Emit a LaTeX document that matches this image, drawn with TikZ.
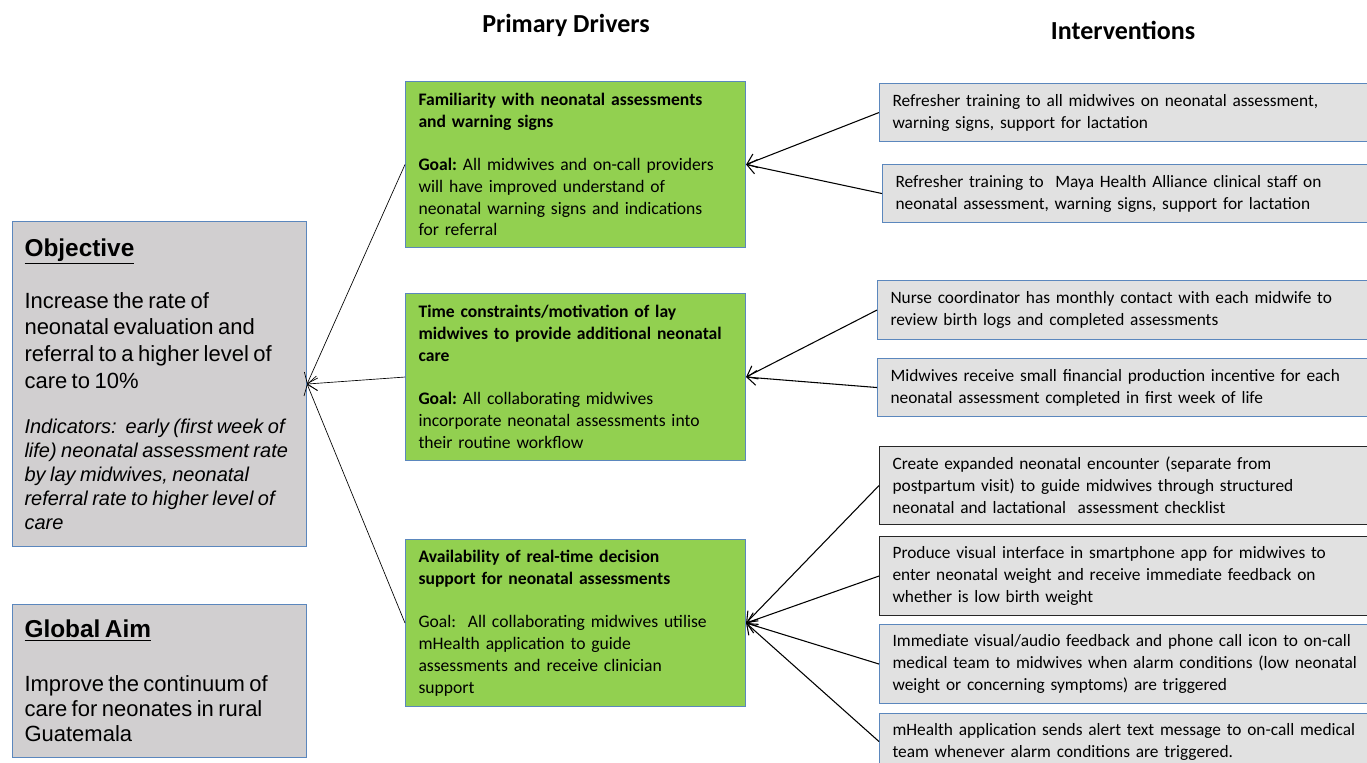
\documentclass[tikz,border=0pt]{standalone}
\usepackage{fontspec}
\setmainfont{Carlito}
\newfontfamily\arialfont{Liberation Sans}
\usepackage{tikz}
\usetikzlibrary{positioning,arrows.meta}
\definecolor{drivergreen}{HTML}{92D050}
\definecolor{edgeblue}{HTML}{5B87BD}
\definecolor{aimgray}{HTML}{D1CFD0}
\definecolor{intgray}{HTML}{E1E1E1}
\frenchspacing
\tikzstyle{aimbox}    = [draw=edgeblue, fill=aimgray, anchor=north west, text width=202.5pt, inner xsep=9pt, inner ysep=0pt, align=left, font=\arialfont, line width=0.8pt]
\tikzstyle{driver}    = [draw=edgeblue, fill=drivergreen, anchor=north west, text width=235.5pt, inner xsep=9.75pt, inner ysep=0pt, align=left, font=\fontsize{13.2}{16.3}\selectfont, line width=0.8pt]
\tikzstyle{interv}    = [draw=edgeblue, fill=intgray, anchor=north west, text width=355.5pt, inner xsep=9.75pt, inner ysep=0pt, align=left, font=\fontsize{13}{16.5}\selectfont, line width=0.8pt]
\tikzstyle{intervdark}= [interv, draw=black!85]
\tikzstyle{heading}   = [font=\fontsize{19.5}{22}\selectfont\bfseries]
\tikzstyle{arrow}     = [line width=0.8pt,-{Straight Barb[length=7pt,width=11pt]}]
\tikzstyle{thinarrow} = [line width=0.5pt,-{Straight Barb[length=7pt,width=11pt]}]

\begin{document}
\frenchspacing
\begin{tikzpicture}[x=0.75pt,y=-0.75pt]
		\useasboundingbox (0,0) rectangle (1367,763);
		\clip (0,0) rectangle (1367,763);

		\node[heading] (drivershead) at (566,25) {Primary Drivers};
		\node[heading] (intervhead) at (1123,30) {Interventions};

		\node[aimbox, minimum height=243.75pt] (objective) at (12,221) {{\fontsize{18.3}{21}\selectfont\bfseries\underline{Objective}\par}\vspace{19pt}
			{\fontsize{16.5}{20}\selectfont Increase the rate of\\neonatal evaluation and\\referral to a higher level of\\care to 10\%\par}\vspace{16pt}
			{\fontsize{15}{18}\selectfont\itshape Indicators:\ \ early (first week of\\life) neonatal assessment rate\\by lay midwives, neonatal\\referral rate to higher level of\\care\par}};
		\node[aimbox, minimum height=114.75pt] (globalaim) at (12,604) {{\fontsize{18.3}{21}\selectfont\bfseries\underline{Global Aim}\par}\vspace{21pt}
			{\fontsize{16.5}{19}\selectfont Improve the continuum of\\care for neonates in rural\\Guatemala\par}};

		\node[driver, minimum height=124.5pt] (familiar) at (405,81) {\textbf{Familiarity with neonatal assessments\\and warning signs}\\[16.3pt]
			\textbf{Goal:} All midwives and on-call providers\\will have improved understand of\\neonatal warning signs and indications\\for referral};
		\node[driver, minimum height=125.25pt] (timemot) at (405,293) {\textbf{Time constraints/motivation of lay\\midwives to provide additional neonatal\\care}\\[16.3pt]
			\textbf{Goal:} All collaborating midwives\\incorporate neonatal assessments into\\their routine workflow};
		\node[driver, minimum height=125.25pt] (decision) at (405,539) {\textbf{Availability of real-time decision\\support for neonatal assessments}\\[16.3pt]
			Goal:\ \ All collaborating midwives utilise\\mHealth application to guide\\assessments and receive clinician\\support};

		\node[interv, minimum height=43.5pt] (refmid) at (879,83) {Refresher training to all midwives on neonatal assessment,\\warning signs, support for lactation};
		\node[interv, minimum height=43.5pt] (refstaff) at (882,164) {Refresher training to\ \ Maya Health Alliance clinical staff on\\neonatal assessment, warning signs, support for lactation};
		\node[interv, minimum height=44.25pt] (nursecoord) at (877,280) {Nurse coordinator has monthly contact with each midwife to\\review birth logs and completed assessments};
		\node[interv, minimum height=43.5pt] (incentive) at (877,358) {Midwives receive small financial production incentive for each\\neonatal assessment completed in first week of life};
		\node[intervdark, minimum height=58.5pt] (encounter) at (879,446) {Create expanded neonatal encounter (separate from\\postpartum visit) to guide midwives through structured\\neonatal and lactational\ \ assessment checklist};
		\node[intervdark, minimum height=59.25pt] (interface) at (879,536) {Produce visual interface in smartphone app for midwives to\\enter neonatal weight and receive immediate feedback on\\whether is low birth weight};
		\node[interv, minimum height=59.25pt] (feedback) at (879,624) {Immediate visual/audio feedback and phone call icon to on-call\\medical team to midwives when alarm conditions (low neonatal\\weight or concerning symptoms) are triggered};
		\node[interv, minimum height=42pt] (alert) at (879,713) {mHealth application sends alert text message to on-call medical\\team whenever alarm conditions are triggered.};

		\draw[arrow] (refmid.west) -- (familiar.east);
		\draw[arrow] (refstaff.west) -- (familiar.east);
		\draw[arrow] (nursecoord.west) -- (timemot.east);
		\draw[arrow] (incentive.west) -- (timemot.east);
		\draw[arrow] (encounter.west) -- (decision.east);
		\draw[arrow] (interface.west) -- (decision.east);
		\draw[arrow] (feedback.west) -- (decision.east);
		\draw[arrow] (alert.west) -- (decision.east);

		\draw[thinarrow] (familiar.west) -- (objective.east);
		\draw[thinarrow] (timemot.west) -- (objective.east);
		\draw[thinarrow] (decision.west) -- (objective.east);
	\end{tikzpicture}
\end{document}
